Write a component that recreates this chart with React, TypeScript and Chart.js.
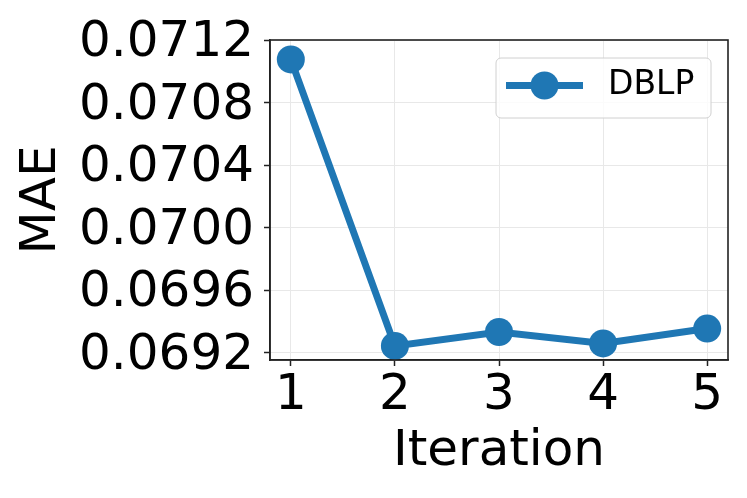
import React, { useEffect, useRef } from "react";
import { Chart, registerables } from "chart.js";

Chart.register(...registerables);

const iterations = [1, 2, 3, 4, 5];
const maeValues = [0.071076, 0.069244, 0.069333, 0.06926, 0.069355];
const yTickValues = [0.0692, 0.0696, 0.07, 0.0704, 0.0708, 0.0712];
const seriesLabel = "DBLP";
const xTitle = "Iteration";
const yTitle = "MAE";

const BLUE = "#1f77b4";
const FONT = "'DejaVu Sans', sans-serif";

const framePlugin = {
  id: "frame",
  afterDraw(chart: any) {
    const { ctx, chartArea } = chart;
    ctx.save();
    ctx.strokeStyle = "#222";
    ctx.lineWidth = 1.6;
    ctx.strokeRect(chartArea.left, chartArea.top, chartArea.right - chartArea.left, chartArea.bottom - chartArea.top);

    // legend
    const w = 215;
    const h = 60;
    const x0 = chartArea.right - 17 - w;
    const y0 = chartArea.top + 18;
    const r = 5;
    ctx.beginPath();
    ctx.moveTo(x0 + r, y0);
    ctx.lineTo(x0 + w - r, y0);
    ctx.arcTo(x0 + w, y0, x0 + w, y0 + r, r);
    ctx.lineTo(x0 + w, y0 + h - r);
    ctx.arcTo(x0 + w, y0 + h, x0 + w - r, y0 + h, r);
    ctx.lineTo(x0 + r, y0 + h);
    ctx.arcTo(x0, y0 + h, x0, y0 + h - r, r);
    ctx.lineTo(x0, y0 + r);
    ctx.arcTo(x0, y0, x0 + r, y0, r);
    ctx.closePath();
    ctx.fillStyle = "rgba(255,255,255,0.8)";
    ctx.fill();
    ctx.strokeStyle = "#d0d0d0";
    ctx.lineWidth = 1;
    ctx.stroke();

    const cy = y0 + 27.5;
    ctx.beginPath();
    ctx.moveTo(x0 + 10, cy);
    ctx.lineTo(x0 + 87, cy);
    ctx.strokeStyle = BLUE;
    ctx.lineWidth = 7;
    ctx.stroke();
    ctx.beginPath();
    ctx.arc(x0 + 48.5, cy, 14, 0, Math.PI * 2);
    ctx.fillStyle = BLUE;
    ctx.fill();

    ctx.fillStyle = "#000";
    ctx.font = `33px ${FONT}`;
    ctx.textAlign = "left";
    ctx.textBaseline = "middle";
    ctx.fillText(chart.data.datasets[0].label, x0 + 112, cy);
    ctx.restore();
  },
};

export default function App() {
  const ref = useRef<HTMLCanvasElement | null>(null);

  useEffect(() => {
    if (!ref.current) return;
    const chart = new Chart(ref.current, {
      type: "line",
      data: {
        datasets: [
          {
            label: seriesLabel,
            data: iterations.map((x, i) => ({ x, y: maeValues[i] })),
            borderColor: BLUE,
            backgroundColor: BLUE,
            borderWidth: 7,
            pointRadius: 14,
            pointBorderWidth: 0,
            pointBackgroundColor: BLUE,
            pointHoverRadius: 14,
            tension: 0,
            clip: false as any,
          },
        ],
      },
      options: {
        animation: false,
        responsive: false,
        maintainAspectRatio: false,
        layout: { padding: { top: 38, right: 19, left: 0, bottom: 0 } },
        plugins: {
          legend: { display: false },
          tooltip: { enabled: false },
        },
        scales: {
          x: {
            type: "linear",
            min: 0.8,
            max: 5.2,
            afterBuildTicks: (scale: any) => {
              scale.ticks = iterations.map((v) => ({ value: v }));
            },
            afterFit: (scale: any) => {
              scale.height = 138;
            },
            ticks: {
              font: { family: FONT, size: 50 },
              color: "#000",
              padding: 0,
              maxRotation: 0,
              callback: (v: any) => String(v),
            },
            grid: {
              color: "#e8e8e8",
              lineWidth: 1,
              tickColor: "#222",
              tickLength: 6,
              tickWidth: 1.5,
            },
            border: { display: true, color: "#222", width: 1.6 },
            title: {
              display: true,
              text: xTitle,
              font: { family: FONT, size: 50 },
              color: "#000",
              padding: { top: 0, bottom: 16 },
            },
          },
          y: {
            type: "linear",
            min: 0.069154,
            max: 0.0712,
            afterBuildTicks: (scale: any) => {
              scale.ticks = yTickValues.map((v) => ({ value: v }));
            },
            afterFit: (scale: any) => {
              scale.width = 270;
            },
            ticks: {
              font: { family: FONT, size: 50 },
              color: "#000",
              padding: 10,
              labelOffset: 3,
              callback: (v: any) => Number(v).toFixed(4),
            },
            grid: {
              color: "#e8e8e8",
              lineWidth: 1,
              tickColor: "#222",
              tickLength: 6,
              tickWidth: 1.5,
            },
            border: { display: true, color: "#222", width: 1.6 },
            title: {
              display: true,
              text: yTitle,
              font: { family: FONT, size: 50 },
              color: "#000",
              padding: { top: 12, bottom: 0 },
            },
          },
        },
      },
      plugins: [framePlugin],
    });
    return () => chart.destroy();
  }, []);

  return (
    <div style={{ position: "absolute", left: 0, top: 0, width: 747, height: 498, background: "#fff" }}>
      <canvas ref={ref} width={747} height={498} style={{ display: "block" }} />
    </div>
  );
}
